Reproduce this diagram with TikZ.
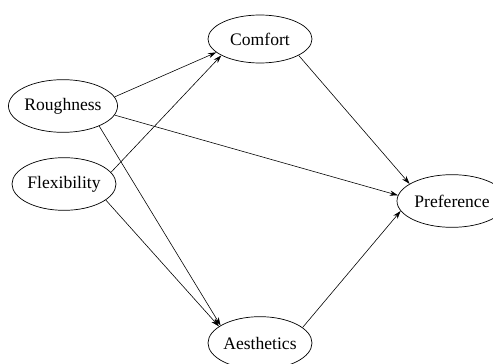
\documentclass[tikz,border=0pt]{standalone}
\usepackage{fontspec}
\setmainfont{Liberation Serif}
\usetikzlibrary{arrows.meta,shapes.geometric}

\begin{document}
\begin{tikzpicture}[x=0.03cm,y=-0.03cm,
  factor/.style={ellipse,draw,line width=0.6pt,inner sep=0pt,
    minimum width=3.12cm,minimum height=1.58cm,
    font=\fontsize{15}{18}\selectfont},
  link/.style={line width=0.5pt,-{Stealth[length=7pt,width=4.5pt]}}]
\useasboundingbox (0,0) rectangle (493,364);
\node[factor,minimum height=1.44cm] (comfort) at (260,39) {Comfort};
\node[factor] (rough) at (63,106) {Roughness};
\node[factor] (flex) at (64,184) {Flexibility};
\node[factor,minimum width=3.3cm] (pref) at (452,201) {Preference};
\node[factor] (aesth) at (260,343) {Aesthetics};
\foreach \from/\fa/\to/\ta in {rough/10/comfort/197, flex/14/comfort/203,
  rough/-10/pref/174, rough/-29/aesth/156, flex/-21/aesth/158,
  comfort/-23/pref/158, aesth/20/pref/191}
{
	\draw[link] (\from.\fa) -- (\to.\ta);
}
\end{tikzpicture}
\end{document}
